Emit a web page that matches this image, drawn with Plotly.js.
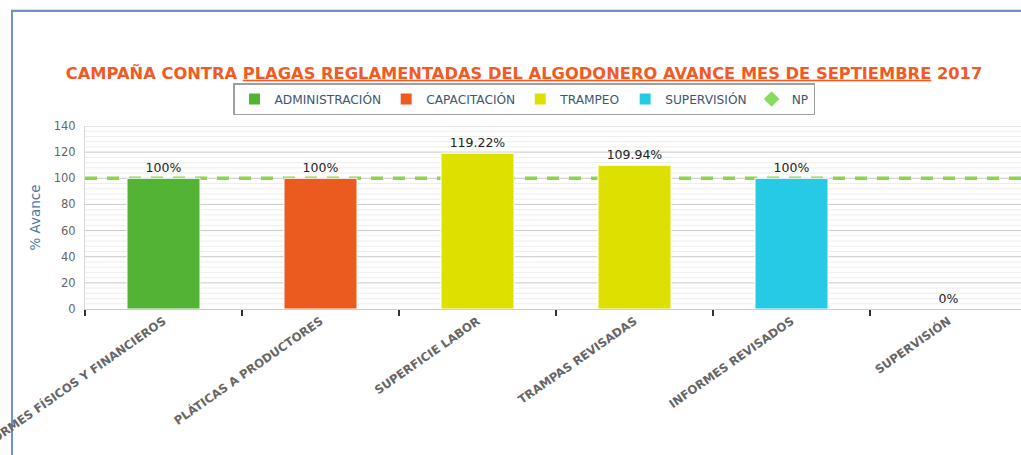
<!DOCTYPE html>
<html>
<head>
<meta charset="utf-8">
<script src="https://cdn.plot.ly/plotly-3.0.1.min.js"></script>
<style>
  html, body { margin: 0; padding: 0; background: #fff; overflow: hidden; width: 1021px; height: 455px; }
  #frame { position: absolute; left: 11px; top: 9px; width: 1100px; height: 600px;
           border-top: 1px solid #d8dde4; }
  #frame::before { content: ""; position: absolute; left: 0; top: 0; right: 0; height: 2px; background: #6f93c2; }
  #frame::after { content: ""; position: absolute; left: 0; top: 0; bottom: 0; width: 2px; background: #6f93c2; }
  #chart { position: absolute; left: 0; top: 0; width: 1040px; height: 455px; }
</style>
</head>
<body>
<div id="frame"></div>
<div id="chart"></div>
<script>
// ---- data ----
const categories = [
  "INFORMES FÍSICOS Y FINANCIEROS",
  "PLÁTICAS A PRODUCTORES",
  "SUPERFICIE LABOR",
  "TRAMPAS REVISADAS",
  "INFORMES REVISADOS",
  "SUPERVISIÓN"
];
const administracion = [100, null, null, null, null, null];
const capacitacion   = [null, 100, null, null, null, null];
const trampeo        = [null, null, 119.22, 109.94, null, null];
const supervision    = [null, null, null, null, 100, 0];
const npValues       = [100, 100, 100, 100, 100, 100];
const yTicks = [0, 20, 40, 60, 80, 100, 120, 140];

const font = "DejaVu Sans, Verdana, sans-serif";
function labels(arr) { return arr.map(v => v === null ? "" : (v + "%")); }

function barTrace(name, values, color) {
  return {
    type: "bar", name: name, x: categories, y: values,
    marker: { color: color, line: { color: "#ffffff", width: 1 } },
    text: labels(values), textposition: "outside", cliponaxis: false,
    textfont: { family: font, size: 12.5, color: "#222222" },
    hoverinfo: "x+y"
  };
}

const traces = [
  barTrace("ADMINISTRACIÓN", administracion, "#52b335"),
  barTrace("CAPACITACIÓN", capacitacion, "#eb5a1e"),
  barTrace("TRAMPEO", trampeo, "#dee000"),
  barTrace("SUPERVISIÓN", supervision, "#26cae4"),
  {
    type: "scatter", mode: "markers", name: "NP", x: [null], y: [null],
    marker: { symbol: "diamond", color: "#86dc5c", size: 12 }
  }
];

// gridlines drawn as shapes (minor, then major) so the NP line sits above them and below the bars
const shapes = [];
const yMax = yTicks[yTicks.length - 1];
const majorStep = yTicks[1] - yTicks[0];
const minorStep = majorStep / 5;
for (let v = minorStep; v < yMax; v += minorStep) {
  if (Math.abs(v / majorStep - Math.round(v / majorStep)) < 1e-9) continue;
  shapes.push({ type: "line", layer: "below", xref: "paper", x0: 0, x1: 1, yref: "y", y0: v, y1: v,
                line: { color: "#ededed", width: 1 } });
}
yTicks.filter(v => v > 0).forEach(v => shapes.push({
  type: "line", layer: "below", xref: "paper", x0: 0, x1: 1, yref: "y", y0: v, y1: v,
  line: { color: "#c8c8c8", width: 1 }
}));
shapes.push({
  type: "line", layer: "below",
  xref: "paper", x0: 0, x1: 1,
  yref: "y", y0: npValues[0], y1: npValues[npValues.length - 1],
  line: { color: "#8cd646", width: 3.5, dash: "12px,10px" }
});

const layout = {
  width: 1040, height: 455,
  margin: { l: 85, r: 13, t: 126, b: 146 },
  paper_bgcolor: "rgba(0,0,0,0)",
  plot_bgcolor: "#ffffff",
  barmode: "relative",
  bargap: 0.535,
  showlegend: true,
  title: {
    text: "CAMPAÑA CONTRA <span style=\"text-decoration:underline\">PLAGAS REGLAMENTADAS DEL ALGODONERO AVANCE MES DE SEPTIEMBRE</span> 2017",
    font: { family: font, size: 16.3, color: "#f15a24", weight: "bold" },
    xref: "container", x: 524 / 1040, xanchor: "center",
    yref: "container", y: 1 - 73 / 455, yanchor: "middle"
  },
  legend: {
    orientation: "h",
    xref: "container", x: 524 / 1040, xanchor: "center",
    yref: "container", y: 1 - 83 / 455, yanchor: "top",
    bgcolor: "#ffffff", bordercolor: "#a0a0a0", borderwidth: 1.5,
    font: { family: font, size: 12.2, color: "#3e576f" },
    itemwidth: 30, traceorder: "normal"
  },
  xaxis: {
    type: "category",
    tickson: "boundaries",
    ticks: "outside", ticklen: 6, tickwidth: 2, tickcolor: "#333333",
    showgrid: false, zeroline: false,
    showline: true, linecolor: "#c0d0e0", linewidth: 1,
    tickangle: -35,
    tickfont: { family: font, size: 11.7, color: "#666666", weight: "bold" },
    automargin: false
  },
  yaxis: {
    range: [0, yMax],
    tickvals: yTicks,
    ticks: "", showline: true, linecolor: "#d8d8d8", linewidth: 1,
    showgrid: false,
    zeroline: false,
    tickfont: { family: font, size: 11.5, color: "#666666" },
    ticklabelstandoff: 6,
    title: { text: "% Avance", font: { family: font, size: 13.5, color: "#4d759e" }, standoff: 10 },
    automargin: false
  },
  shapes: shapes
};

Plotly.newPlot("chart", traces, layout, { displayModeBar: false, staticPlot: true });
</script>
</body>
</html>
